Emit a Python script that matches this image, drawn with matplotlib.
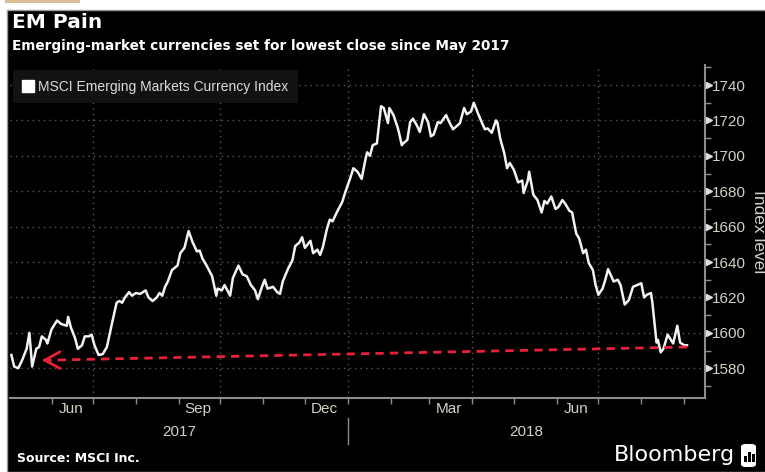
import matplotlib
matplotlib.use("Agg")
import matplotlib.pyplot as plt
import matplotlib.dates as mdates
from matplotlib.lines import Line2D
from matplotlib.patches import Rectangle, FancyBboxPatch
import numpy as np
import pandas as pd

# MSCI EM currency index
dates = [
    "2017-05-03", "2017-05-05", "2017-05-08", "2017-05-11", "2017-05-14", "2017-05-16",
    "2017-05-18", "2017-05-21", "2017-05-23", "2017-05-25", "2017-05-28", "2017-05-29",
    "2017-06-01", "2017-06-05", "2017-06-08", "2017-06-12", "2017-06-13", "2017-06-15",
    "2017-06-18", "2017-06-20", "2017-06-23", "2017-06-25", "2017-06-28", "2017-06-30",
    "2017-07-02", "2017-07-05", "2017-07-08", "2017-07-11", "2017-07-14", "2017-07-18",
    "2017-07-20", "2017-07-22", "2017-07-24", "2017-07-27", "2017-07-29", "2017-08-01",
    "2017-08-04", "2017-08-08", "2017-08-10", "2017-08-13", "2017-08-16", "2017-08-18",
    "2017-08-20", "2017-08-22", "2017-08-24", "2017-08-27", "2017-08-31", "2017-09-02",
    "2017-09-05", "2017-09-08", "2017-09-11", "2017-09-14", "2017-09-16", "2017-09-18",
    "2017-09-21", "2017-09-25", "2017-09-28", "2017-09-29", "2017-10-02", "2017-10-04",
    "2017-10-08", "2017-10-10", "2017-10-14", "2017-10-17", "2017-10-20", "2017-10-23",
    "2017-10-26", "2017-10-28", "2017-10-31", "2017-11-02", "2017-11-04", "2017-11-08",
    "2017-11-11", "2017-11-13", "2017-11-15", "2017-11-19", "2017-11-22", "2017-11-24",
    "2017-11-27", "2017-11-29", "2017-12-01", "2017-12-03", "2017-12-05", "2017-12-07",
    "2017-12-10", "2017-12-12", "2017-12-14", "2017-12-17", "2017-12-19", "2017-12-21",
    "2017-12-24", "2017-12-28", "2017-12-30", "2018-01-03", "2018-01-05", "2018-01-08",
    "2018-01-11", "2018-01-14", "2018-01-15", "2018-01-17", "2018-01-19", "2018-01-22",
    "2018-01-25", "2018-01-27", "2018-01-30", "2018-01-31", "2018-02-03", "2018-02-06",
    "2018-02-07", "2018-02-09", "2018-02-10", "2018-02-13", "2018-02-15", "2018-02-17",
    "2018-02-20", "2018-02-22", "2018-02-25", "2018-02-28", "2018-03-02", "2018-03-04",
    "2018-03-07", "2018-03-09", "2018-03-13", "2018-03-15", "2018-03-18", "2018-03-21",
    "2018-03-23", "2018-03-26", "2018-03-28", "2018-03-31", "2018-04-02", "2018-04-05",
    "2018-04-08", "2018-04-10", "2018-04-12", "2018-04-15", "2018-04-18", "2018-04-19",
    "2018-04-21", "2018-04-24", "2018-04-26", "2018-04-28", "2018-05-01", "2018-05-04",
    "2018-05-07", "2018-05-08", "2018-05-11", "2018-05-12", "2018-05-15", "2018-05-18",
    "2018-05-21", "2018-05-23", "2018-05-25", "2018-05-28", "2018-05-31", "2018-06-02",
    "2018-06-05", "2018-06-07", "2018-06-10", "2018-06-12", "2018-06-15", "2018-06-17",
    "2018-06-20", "2018-06-22", "2018-06-24", "2018-06-27", "2018-06-29", "2018-07-01",
    "2018-07-04", "2018-07-06", "2018-07-08", "2018-07-12", "2018-07-15", "2018-07-17",
    "2018-07-20", "2018-07-23", "2018-07-26", "2018-07-29", "2018-08-01", "2018-08-03",
    "2018-08-05", "2018-08-08", "2018-08-09", "2018-08-12", "2018-08-13", "2018-08-15",
    "2018-08-17", "2018-08-20", "2018-08-24", "2018-08-27", "2018-08-29", "2018-09-01",
    "2018-09-03",
]
values = [
    1587.5, 1581, 1580, 1585, 1591, 1600,
    1581, 1591, 1592, 1598, 1596, 1594,
    1602, 1607, 1605, 1604, 1609, 1603,
    1597, 1591, 1593, 1598, 1598, 1599,
    1593, 1587.5, 1588, 1592, 1603, 1617,
    1618, 1617, 1620, 1623, 1621, 1622.5,
    1622, 1624, 1620, 1618, 1620, 1622.5,
    1621, 1626, 1629, 1635.5, 1638, 1645,
    1648, 1657.5, 1651, 1646, 1646.5, 1642,
    1638, 1632, 1621, 1625, 1624, 1627,
    1621, 1631, 1638, 1633, 1632, 1627,
    1624, 1619, 1626, 1630, 1625, 1626,
    1623, 1622, 1629, 1636.5, 1641, 1649,
    1651, 1654, 1648, 1650, 1652, 1645,
    1647, 1644, 1648.5, 1659, 1664, 1663,
    1668, 1674, 1679, 1688, 1693, 1691,
    1687, 1699, 1702, 1700, 1706, 1707,
    1728, 1727, 1718.5, 1727, 1723, 1716,
    1713, 1706, 1707, 1709, 1719, 1721,
    1717, 1713.5, 1723.5, 1719, 1711, 1712,
    1719, 1718.5, 1723, 1719.5, 1715, 1717,
    1718.5, 1727, 1723.5, 1725, 1730, 1724,
    1718.5, 1715, 1715.5, 1713, 1720, 1719,
    1710, 1701.5, 1693, 1696, 1692, 1685,
    1686, 1679, 1686, 1691, 1678, 1675,
    1668, 1674.5, 1673, 1677, 1670, 1671,
    1675, 1673, 1669, 1668, 1656, 1653.5,
    1645, 1647, 1639.5, 1635.5, 1627, 1621.5,
    1625, 1630, 1636, 1629, 1630, 1627,
    1616, 1618.5, 1626, 1627, 1628, 1620,
    1621.5, 1622.5, 1617, 1594.5, 1596, 1589,
    1591, 1599, 1594, 1604, 1594.5, 1593,
    1593,
]

arrow_dates = ["2018-09-03", "2017-05-25"]
arrow_values = [1592, 1584.5]

y_ticks = [1580, 1600, 1620, 1640, 1660, 1680, 1700, 1720, 1740]
month_labels = ["Jun", "Sep", "Dec", "Mar", "Jun"]
month_label_dates = ["2017-06-15", "2017-09-15", "2017-12-15", "2018-03-15", "2018-06-15"]
grid_dates = ["2017-07-01", "2017-10-01", "2018-01-01", "2018-04-01", "2018-07-01"]
years = ["2017", "2018"]

BG = "black"
GRID = "#5a5a5a"
AXIS = "#8c8c8c"
TICKTXT = "#d2d2c4"
RED = "#e8203a"
NARROW = ["Liberation Sans", "DejaVu Sans"]

x = pd.to_datetime(dates)
xmin = pd.Timestamp("2017-05-02")
xmax = pd.Timestamp("2018-09-16")

fig = plt.figure(figsize=(7.65, 4.72), dpi=100, facecolor="white")
fig.patches.append(Rectangle((7 / 765, 0), 1.0, 462 / 472, transform=fig.transFigure,
                             facecolor=BG, edgecolor="#9a9a9a", lw=1, zorder=-2))
fig.patches.append(Rectangle((5 / 765, 469 / 472), 75 / 765, 3 / 472, transform=fig.transFigure,
                             facecolor="#d9bc94", edgecolor="none", zorder=-2))

ax = fig.add_axes([10 / 765, 74 / 472, 695 / 765, 333 / 472])
ax.set_facecolor(BG)
ax.set_zorder(1)

ax.plot(x, values, color="#f2f2f2", lw=1.8, zorder=3, solid_joinstyle="round")

# dashed red arrow back to May 2017
ad = pd.to_datetime(arrow_dates)
ax.plot(ad, arrow_values, color=RED, lw=2, dashes=(3, 2.2), zorder=4)
ax.annotate("", xy=(ad[1], arrow_values[1]),
            xytext=(ad[1] + pd.Timedelta(days=6), arrow_values[1] + 0.05),
            arrowprops=dict(arrowstyle="->,head_length=0.55,head_width=0.3",
                            color=RED, lw=2, shrinkA=0, shrinkB=0, mutation_scale=20),
            zorder=4)

ax.set_xlim(xmin, xmax)
ax.set_ylim(1563.2, 1751.3)

# grid
for g in y_ticks:
    ax.axhline(g, color=GRID, lw=1, ls=(0, (1, 3)), zorder=1)
for g in pd.to_datetime(grid_dates):
    ax.axvline(g, color=GRID, lw=1, ls=(0, (1, 3)), zorder=1)

for s in ["left", "top"]:
    ax.spines[s].set_visible(False)
ax.spines["right"].set_color(AXIS)
ax.spines["bottom"].set_color(AXIS)
ax.spines["right"].set_linewidth(1.5)
ax.spines["bottom"].set_linewidth(1.5)

# y axis on right
ax.yaxis.tick_right()
ax.set_yticks(y_ticks)
ax.set_yticks(np.arange(1570, 1751, 10), minor=True)
ax.tick_params(axis="y", which="major", length=0, pad=5, labelcolor=TICKTXT, labelsize=11)
ax.tick_params(axis="y", which="minor", length=4, width=1, color=AXIS, direction="out")
for lab in ax.get_yticklabels():
    lab.set_family(NARROW)
ax.plot([1 + 4 / 695] * len(y_ticks), y_ticks, ls="none", marker=">", ms=5,
        color="#dcdcdc", transform=ax.get_yaxis_transform(), clip_on=False, zorder=5)
ax.yaxis.set_label_position("right")
ax.set_ylabel("Index level", rotation=270, color=TICKTXT, fontsize=12.5,
              family=NARROW, va="center", ha="center")
ax.yaxis.set_label_coords(1.077, 0.5)

# x axis: month ticks, quarter labels at mid-month
ax.xaxis.set_major_locator(mdates.MonthLocator())
ax.xaxis.set_major_formatter(plt.NullFormatter())
ax.set_xticks(pd.to_datetime(month_label_dates), minor=True)
ax.set_xticklabels(month_labels, minor=True)
ax.tick_params(axis="x", which="major", length=4, width=1, color=AXIS)
ax.tick_params(axis="x", which="minor", length=0, pad=3, labelcolor=TICKTXT, labelsize=11)
for lab in ax.get_xticklabels(minor=True):
    lab.set_family(NARROW)

jan1 = mdates.date2num(pd.Timestamp("2018-01-01"))
lo, hi = ax.get_xlim()
xt = ax.get_xaxis_transform()
ax.text((lo + jan1) / 2, -0.103, years[0], transform=xt, ha="center", va="center",
        color=TICKTXT, fontsize=11, family=NARROW)
ax.text((jan1 + hi) / 2, -0.103, years[1], transform=xt, ha="center", va="center",
        color=TICKTXT, fontsize=11, family=NARROW)
ax.plot([jan1, jan1], [-0.06, -0.138], color=AXIS, lw=1, transform=xt, clip_on=False)

# legend
h = Line2D([], [], marker="s", color="white", ls="none", ms=9)
leg = ax.legend([h], ["MSCI Emerging Markets Currency Index"], loc="upper left",
                bbox_to_anchor=(0.004, 0.985), borderaxespad=0, frameon=True,
                fancybox=False, facecolor="#121212", edgecolor="none", framealpha=1,
                handlelength=0.8, handletextpad=0.35, borderpad=0.7,
                prop={"family": NARROW, "size": 10})
for t in leg.get_texts():
    t.set_color("#dcdcdc")
leg.set_zorder(6)

# titles and footer
fig.text(12 / 765, 1 - 22 / 472, "EM Pain", color="white", fontsize=14.5, fontweight="bold",
         va="center", ha="left")
fig.text(12 / 765, 1 - 46 / 472, "Emerging-market currencies set for lowest close since May 2017",
         color="white", fontsize=9.8, fontweight="bold", va="center", ha="left")
fig.text(17 / 765, 1 - 458 / 472, "Source: MSCI Inc.", color="white", fontsize=9,
         fontweight="bold", va="center", ha="left")
fig.text(735 / 765, 1 - 455 / 472, "Bloomberg", color="white", fontsize=16,
         va="center", ha="right")

# small terminal icon next to the wordmark
icon = FancyBboxPatch((741 / 765, 5 / 472), 15 / 765, 23 / 472,
                      boxstyle="round,pad=0,rounding_size=0.006",
                      transform=fig.transFigure, facecolor="white", edgecolor="none")
fig.patches.append(icon)
for i, bh in enumerate([6, 10, 8]):
    fig.patches.append(Rectangle(((744 + i * 4) / 765, 10 / 472), 2.5 / 765, bh / 472,
                                 transform=fig.transFigure, facecolor="black",
                                 edgecolor="none"))

fig.savefig("out.png", dpi=100, facecolor=fig.get_facecolor())
